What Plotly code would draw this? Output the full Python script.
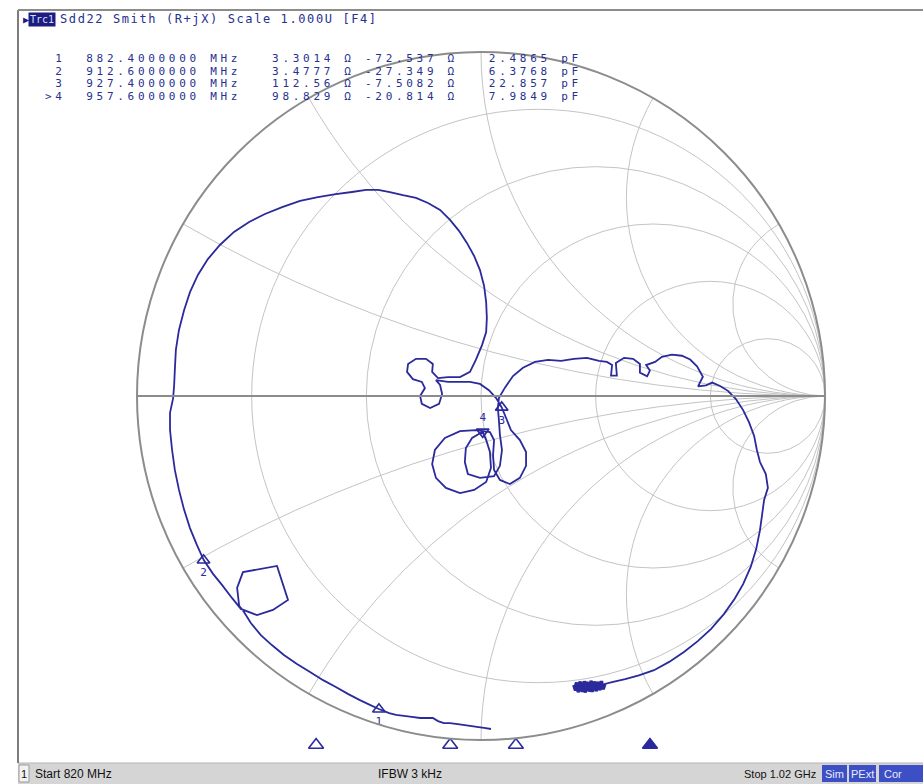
import numpy as np
import plotly.graph_objects as go

W, H = 923, 784

# Sdd22 reflection coefficient along the sweep (820 MHz -> 1.02 GHz), real / imaginary part
s22_re = [
    0.029, 0.009, -0.012, -0.032, -0.052, -0.073, -0.090, -0.108, -0.125, -0.140,
    -0.154, -0.177, -0.201, -0.224, -0.247, -0.267, -0.297,
    -0.323, -0.352, -0.387, -0.422, -0.459, -0.497, -0.535, -0.573, -0.608, -0.640,
    -0.669, -0.689, -0.703,
    -0.709, -0.692, -0.593, -0.561, -0.605, -0.651, -0.698,
    -0.724, -0.753, -0.779, -0.806,
    -0.826, -0.846, -0.863, -0.878, -0.890, -0.898, -0.904, -0.904, -0.895, -0.892,
    -0.890, -0.887, -0.878, -0.863, -0.846, -0.823, -0.794, -0.759, -0.718, -0.674,
    -0.628, -0.578, -0.526, -0.474, -0.422, -0.375, -0.334, -0.299, -0.265, -0.227,
    -0.189, -0.154, -0.119, -0.090, -0.064, -0.041, -0.020, -0.003, 0.009, 0.015,
    0.017, 0.015, 0.003, -0.015, -0.032,
    -0.061, -0.096, -0.125,
    -0.142, -0.140, -0.160, -0.189, -0.212, -0.215, -0.198, -0.172,
    -0.163, -0.177, -0.172, -0.148, -0.122, -0.113, -0.119, -0.131,
    -0.096, -0.061, -0.032, -0.003, 0.023, 0.044, 0.0603,
    0.073, 0.087, 0.113, 0.131, 0.131, 0.113, 0.084, 0.055, 0.038, 0.035, 0.038, 0.026,
    -0.015, -0.061, -0.105, -0.134, -0.142, -0.131, -0.102, -0.061, -0.020, 0.015,
    0.029, 0.026, 0.015, 0.005,
    -0.026, -0.044, -0.047, -0.038, -0.003, 0.038, 0.055, 0.061, 0.055, 0.052, 0.049, 0.052,
    0.070, 0.093, 0.122, 0.157, 0.195, 0.233, 0.270, 0.308, 0.343, 0.366,
    0.381, 0.378, 0.395, 0.392,
    0.416, 0.442, 0.462,
    0.462, 0.483, 0.491, 0.480,
    0.506, 0.526, 0.555, 0.584, 0.608, 0.628, 0.645,
    0.631, 0.654,
    0.672, 0.695, 0.718, 0.741, 0.762, 0.779, 0.794, 0.802, 0.811, 0.828, 0.834, 0.823,
    0.817, 0.811, 0.800, 0.784, 0.762, 0.737, 0.706, 0.669, 0.631, 0.590, 0.547, 0.503,
    0.459, 0.419, 0.384, 0.360,
    0.355, 0.350, 0.345, 0.340, 0.335, 0.330, 0.325, 0.320, 0.315, 0.310,
    0.305, 0.300, 0.295, 0.290, 0.285, 0.280, 0.275, 0.270,
    0.273, 0.278, 0.283, 0.288, 0.293, 0.298, 0.303, 0.308, 0.313, 0.318,
    0.323, 0.328, 0.333, 0.338, 0.343,
]
s22_im = [
    -0.968, -0.965, -0.962, -0.959, -0.956, -0.953, -0.951, -0.951, -0.945, -0.936,
    -0.936, -0.936, -0.933, -0.930, -0.927, -0.922, -0.910,
    -0.898, -0.884, -0.866, -0.846, -0.826, -0.802, -0.779, -0.753, -0.724, -0.695,
    -0.660, -0.628, -0.610,
    -0.558, -0.512, -0.494, -0.593, -0.622, -0.637, -0.619,
    -0.587, -0.549, -0.517, -0.477,
    -0.433, -0.384, -0.331, -0.273, -0.215, -0.157, -0.099, -0.049, -0.006, 0.032,
    0.076, 0.134, 0.192, 0.250, 0.302, 0.352, 0.398, 0.439, 0.477, 0.506,
    0.529, 0.549, 0.567, 0.578, 0.587, 0.593, 0.599, 0.599, 0.593, 0.584,
    0.576, 0.561, 0.541, 0.512, 0.480, 0.445, 0.407, 0.366, 0.320, 0.273,
    0.227, 0.186, 0.148, 0.105, 0.070,
    0.055, 0.055, 0.052,
    0.070, 0.093, 0.108, 0.108, 0.093, 0.070, 0.049, 0.041,
    0.023, 0.000, -0.023, -0.035, -0.023, 0.006, 0.032, 0.046,
    0.041, 0.041, 0.041, 0.035, 0.017, -0.006, -0.0332,
    -0.064, -0.099, -0.128, -0.163, -0.203, -0.238, -0.256, -0.244, -0.215, -0.172, -0.128, -0.105,
    -0.099, -0.102, -0.122, -0.157, -0.198, -0.238, -0.267, -0.282, -0.273, -0.250,
    -0.209, -0.163, -0.128, -0.104,
    -0.122, -0.151, -0.192, -0.227, -0.238, -0.233, -0.203, -0.157, -0.113, -0.070, -0.035, -0.006,
    0.025, 0.058, 0.082, 0.099, 0.105, 0.102, 0.108, 0.111, 0.102, 0.099,
    0.090, 0.059, 0.059, 0.096,
    0.111, 0.108, 0.093,
    0.068, 0.057, 0.074, 0.090,
    0.099, 0.114, 0.120, 0.117, 0.106, 0.086, 0.056,
    0.028, 0.031,
    0.039, 0.029, 0.015, -0.009, -0.041, -0.076, -0.116, -0.157, -0.192, -0.227, -0.267, -0.302,
    -0.346, -0.390, -0.445, -0.497, -0.547, -0.590, -0.634, -0.677, -0.712, -0.744, -0.773, -0.797,
    -0.812, -0.823, -0.831, -0.837,
    -0.852, -0.829, -0.855, -0.831, -0.858, -0.830, -0.856, -0.828, -0.859, -0.832,
    -0.857, -0.829, -0.860, -0.833, -0.858, -0.836, -0.856, -0.840,
    -0.850, -0.833, -0.861, -0.830, -0.856, -0.834, -0.862, -0.831, -0.854, -0.835,
    -0.860, -0.833, -0.851, -0.840, -0.848,
]
# the last sweep points jitter around one spot (noisy tail of the sweep)
noisy_tail = 34

# Marker readout (reference impedance of the differential port)
z0_ohm = 100.0
marker_names = ["1", "2", "3", ">4"]
marker_freq_mhz = [882.4, 912.6, 927.4, 957.6]
marker_r_ohm = [3.3014, 3.4777, 112.56, 98.829]
marker_x_ohm = [-72.537, -27.349, -7.5082, -20.814]
marker_c_pf = [2.4865, 6.3768, 22.857, 7.9849]

# Channel settings
start_mhz, stop_mhz = 820, 1020
ifbw_khz = 3
scale_u = 1.0

# Smith grid: constant-resistance circles and constant-reactance arcs (both signs)
r_circles = [0.2, 0.5, 1, 2, 5]
x_arcs = [0.268, 0.577, 1, 1.732, 3.732]

NAVY = "#2a2a9c"
TEXT_NAVY = "#26308f"
GRID = "#c4c4c4"
FRAME = "#8c8c8c"


def px(x):
    return x / W


def py(y):
    return 1 - y / H


gamma = np.array(s22_re) + 1j * np.array(s22_im)
z = (1 + gamma) / (1 - gamma)

m_r = np.array(marker_r_ohm) / z0_ohm
m_x = np.array(marker_x_ohm) / z0_ohm

fig = go.Figure()

fig.add_trace(go.Scattersmith(
    real=z.real, imag=z.imag, mode="lines",
    line=dict(color=NAVY, width=1.8), hoverinfo="skip", showlegend=False,
))
# dense noisy tail drawn as a solid cluster
fig.add_trace(go.Scattersmith(
    real=z.real[-noisy_tail:], imag=z.imag[-noisy_tail:], mode="lines", fill="toself",
    fillcolor=NAVY, line=dict(color=NAVY, width=3.5), hoverinfo="skip", showlegend=False,
))

plain = [i for i, n in enumerate(marker_names) if not n.startswith(">")]
active = [i for i, n in enumerate(marker_names) if n.startswith(">")]

fig.add_trace(go.Scattersmith(
    real=m_r[plain], imag=m_x[plain], mode="markers+text",
    marker=dict(symbol="triangle-up-open", size=11, color=NAVY, line=dict(width=1.6, color=NAVY)),
    text=[marker_names[i] for i in plain], textposition="bottom center",
    textfont=dict(family="DejaVu Sans Mono", size=11, color=NAVY),
    showlegend=False, hoverinfo="skip",
))
fig.add_trace(go.Scattersmith(
    real=m_r[active], imag=m_x[active], mode="markers+text",
    marker=dict(symbol="triangle-down-open", size=11, color=NAVY, line=dict(width=1.6, color=NAVY)),
    text=[marker_names[i].lstrip(">") for i in active], textposition="top center",
    textfont=dict(family="DejaVu Sans Mono", size=11, color=NAVY),
    showlegend=False, hoverinfo="skip",
))

# Stimulus-axis marker flags under the diagram
fig.add_trace(go.Scatter(
    x=marker_freq_mhz, y=[0] * len(marker_freq_mhz), mode="markers",
    marker=dict(
        symbol=["triangle-up" if n.startswith(">") else "triangle-up-open" for n in marker_names],
        size=13, color=NAVY, line=dict(width=1.6, color=NAVY),
    ),
    xaxis="x", yaxis="y", showlegend=False, hoverinfo="skip",
))

fig.update_layout(
    width=W, height=H,
    margin=dict(l=0, r=0, t=0, b=0),
    paper_bgcolor="white", plot_bgcolor="rgba(0,0,0,0)",
    smith=dict(
        domain=dict(x=[px(137), px(825)], y=[py(740), py(52)]),
        bgcolor="white",
        realaxis=dict(
            tickvals=r_circles, showticklabels=False, ticks="",
            gridcolor=GRID, gridwidth=1.4, showline=True, linecolor=FRAME, linewidth=2,
        ),
        imaginaryaxis=dict(
            tickvals=x_arcs + [-v for v in x_arcs], showticklabels=False, ticks="",
            gridcolor=GRID, gridwidth=1.4, showline=True, linecolor=FRAME, linewidth=2,
        ),
    ),
    xaxis=dict(domain=[0, 1], range=[811.2, 1019.1], visible=False, fixedrange=True),
    yaxis=dict(domain=[py(757), py(733)], range=[-1, 1], visible=False, fixedrange=True),
)

shapes = [
    # status bar
    dict(type="rect", xref="paper", yref="paper", x0=px(18), x1=1, y0=0, y1=py(763),
         fillcolor="#d5d5d5", line=dict(width=0), layer="below"),
    dict(type="line", xref="paper", yref="paper", x0=px(18), x1=1, y0=py(763), y1=py(763),
         line=dict(color="#b4b4b4", width=1)),
    # window frame
    dict(type="line", xref="paper", yref="paper", x0=px(18), x1=px(18), y0=py(763), y1=py(10),
         line=dict(color="#7d7d7d", width=2)),
    dict(type="line", xref="paper", yref="paper", x0=px(18), x1=1, y0=py(10), y1=py(10),
         line=dict(color=FRAME, width=2)),
    # channel number box
    dict(type="rect", xref="paper", yref="paper", x0=px(19), x1=px(29), y0=py(782), y1=py(765),
         fillcolor="#f2f2f2", line=dict(color="#9a9a9a", width=1)),
]
for x0, x1 in [(822, 847), (849, 876), (879, 923)]:
    shapes.append(dict(type="rect", xref="paper", yref="paper", x0=px(x0), x1=px(x1),
                       y0=py(782), y1=py(765), fillcolor="#3c4fc4", line=dict(width=0)))

annotations = []


def text(x, y, s, size=11, color=TEXT_NAVY, family="DejaVu Sans Mono", xanchor="left", spacing=None, **kw):
    if spacing is not None:
        s = f'<span style="letter-spacing:{spacing}px">{s}</span>'
    annotations.append(dict(
        x=px(x), y=py(y), xref="paper", yref="paper", text=s, showarrow=False,
        xanchor=xanchor, yanchor="middle", font=dict(family=family, size=size, color=color), **kw
    ))


# trace header
text(21, 19, "▶", size=10, color="#1d1d80")
text(28, 19, "Trc1", size=10, color="#d8dcff", bgcolor="#1d1d80", borderpad=1)
text(58, 19, f"Sdd22 Smith (R+jX) Scale {scale_u:.3f}U [F4]", size=12, spacing=1.6)

# marker readout table
for i, name in enumerate(marker_names):
    row = (f"{name:>2}  {marker_freq_mhz[i]:.7f} MHz   "
           f"{marker_r_ohm[i]:.5g} Ω {marker_x_ohm[i]:.5g} Ω   {marker_c_pf[i]:.5g} pF")
    text(44, 58 + 13 * i, row, size=11, spacing=3.7, borderpad=0)

# status bar
text(24, 774, "1", size=11, color="#111111", family="Liberation Sans", xanchor="center")
text(33, 774, f"Start {start_mhz} MHz", size=12, color="#111111", family="Liberation Sans")
text(376, 774, f"IFBW {ifbw_khz} kHz", size=12, color="#111111", family="Liberation Sans")
text(818, 774, f"Stop {stop_mhz / 1000:.2f} GHz", size=11, color="#111111", family="Liberation Sans",
     xanchor="right")
for x, label in [(834.5, "Sim"), (862.5, "PExt"), (893, "Cor")]:
    text(x, 774, label, size=11, color="#e8ecff", family="Liberation Sans", xanchor="center")

fig.update_layout(shapes=shapes, annotations=annotations)

fig.write_html("out.html")
